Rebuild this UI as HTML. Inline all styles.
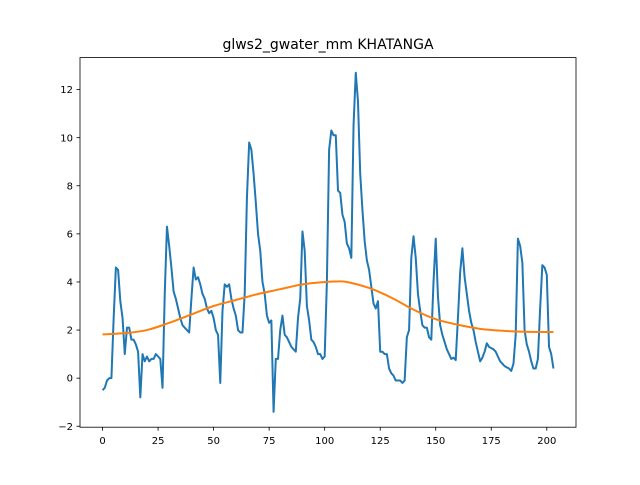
<!DOCTYPE html>
<html><head><meta charset="utf-8"><style>
body{margin:0;background:#fff;}
svg text{font-family:"DejaVu Sans","Liberation Sans",sans-serif;fill:#000;}
</style></head><body>
<svg id="chart" width="640" height="480" viewBox="0 0 640 480" xmlns="http://www.w3.org/2000/svg">
<rect width="640" height="480" fill="#fff"/>
<text x="328" y="49" font-size="14" text-anchor="middle">glws2_gwater_mm KHATANGA</text>
<g id="ticks"></g>
<g id="plot"></g>
<rect x="80" y="57.6" width="496" height="369.6" fill="none" stroke="#000" stroke-width="0.8"/>
</svg>
<script>
const seriesValues = [-0.5,-0.4,-0.1,0,0,2.5,4.6,4.5,3.2,2.5,1.0,2.1,2.1,1.6,1.6,1.4,1.1,-0.8,1.0,0.7,0.9,0.7,0.8,0.8,1.0,0.9,0.8,-0.4,3.5,6.3,5.5,4.6,3.6,3.3,2.9,2.5,2.2,2.1,2.0,1.9,3.3,4.6,4.1,4.2,3.9,3.5,3.3,2.9,2.7,2.8,2.5,2.0,1.8,-0.2,2.8,3.9,3.8,3.9,3.3,2.9,2.6,2.0,1.9,1.9,3.5,7.5,9.8,9.5,8.5,7.3,6.0,5.3,4.0,3.5,2.6,2.3,2.4,-1.4,0.8,0.8,2.0,2.6,1.8,1.7,1.5,1.3,1.2,1.1,2.5,3.3,6.1,5.3,3.0,2.4,1.6,1.5,1.3,1.0,1.0,0.8,0.9,4.0,9.5,10.3,10.1,10.1,7.8,7.7,6.8,6.5,5.6,5.4,5.0,10.5,12.7,11.5,8.5,7.0,5.7,4.9,4.5,3.8,3.1,2.9,3.2,1.1,1.1,1.0,1.0,0.4,0.2,0.1,-0.1,-0.1,-0.1,-0.2,-0.1,1.7,2.0,5.0,5.9,5.0,3.5,2.8,2.2,2.1,2.1,1.7,1.6,4.0,5.8,3.4,2.2,1.8,1.5,1.2,1.0,0.8,0.85,0.75,2.5,4.4,5.4,4.2,3.5,2.8,2.3,2.0,1.5,1.1,0.7,0.85,1.1,1.45,1.3,1.25,1.2,1.1,0.9,0.7,0.6,0.5,0.45,0.4,0.3,0.6,1.8,5.8,5.5,4.8,2.0,1.4,1.1,0.7,0.4,0.4,0.8,2.9,4.7,4.6,4.3,1.3,1.0,0.4];
const trendX = [0,10,20,30,40,50,60,70,80,90,100,105,110,120,130,140,150,160,170,180,190,203];
const trendValues = [1.82,1.87,2.0,2.3,2.65,3.0,3.25,3.5,3.7,3.9,4.0,4.02,4.0,3.75,3.35,2.85,2.45,2.22,2.05,1.97,1.93,1.92];
const xTicks = [0,25,50,75,100,125,150,175,200];
const yTicks = [-2,0,2,4,6,8,10,12];

const NS="http://www.w3.org/2000/svg";
const X0=80,X1=576,Y0=57.6,Y1=427.2;
const xmin=-10.15,xmax=213.15,ymin=-2.04,ymax=13.33;
const sx=v=>X0+(v-xmin)/(xmax-xmin)*(X1-X0);
const sy=v=>Y1-(v-ymin)/(ymax-ymin)*(Y1-Y0);
const ticks=document.getElementById('ticks'), plot=document.getElementById('plot');
function mk(tag,attrs,parent){const e=document.createElementNS(NS,tag);for(const k in attrs)e.setAttribute(k,attrs[k]);parent.appendChild(e);return e;}

xTicks.forEach(t=>{
  const l=mk('line',{x1:sx(t),x2:sx(t),y1:Y1,y2:Y1+3.5,stroke:'#000','stroke-width':0.8},ticks);
  
  
  const tx=mk('text',{x:sx(t),y:Y1+17,'font-size':10,'text-anchor':'middle'},ticks);
  tx.textContent=t;
  
  
});
yTicks.forEach(t=>{
  const l=mk('line',{x1:X0-3.5,x2:X0,y1:sy(t),y2:sy(t),stroke:'#000','stroke-width':0.8},ticks);
  
  
  const tx=mk('text',{x:X0-7,y:sy(t)+3.6,'font-size':10,'text-anchor':'end'},ticks);
  tx.textContent=(t<0?'\u2212'+(-t):t);
  
  
});

const p1=mk('polyline',{points:seriesValues.map((v,i)=>sx(i).toFixed(2)+','+sy(v).toFixed(2)).join(' '),fill:'none',stroke:'#1f77b4','stroke-width':2,'stroke-linejoin':'round'},plot);



const pts=trendX.map((x,i)=>[sx(x),sy(trendValues[i])]);
let d='M'+pts[0][0]+','+pts[0][1];
for(let i=0;i<pts.length-1;i++){
  const p0=pts[Math.max(0,i-1)],pa=pts[i],pb=pts[i+1],p3=pts[Math.min(pts.length-1,i+2)];
  const c1=[pa[0]+(pb[0]-p0[0])/6,pa[1]+(pb[1]-p0[1])/6];
  const c2=[pb[0]-(p3[0]-pa[0])/6,pb[1]-(p3[1]-pa[1])/6];
  d+=' C'+c1+' '+c2+' '+pb;
}
const p2=mk('path',{d:d,fill:'none',stroke:'#ff7f0e','stroke-width':2},plot);


</script>
</body></html>
